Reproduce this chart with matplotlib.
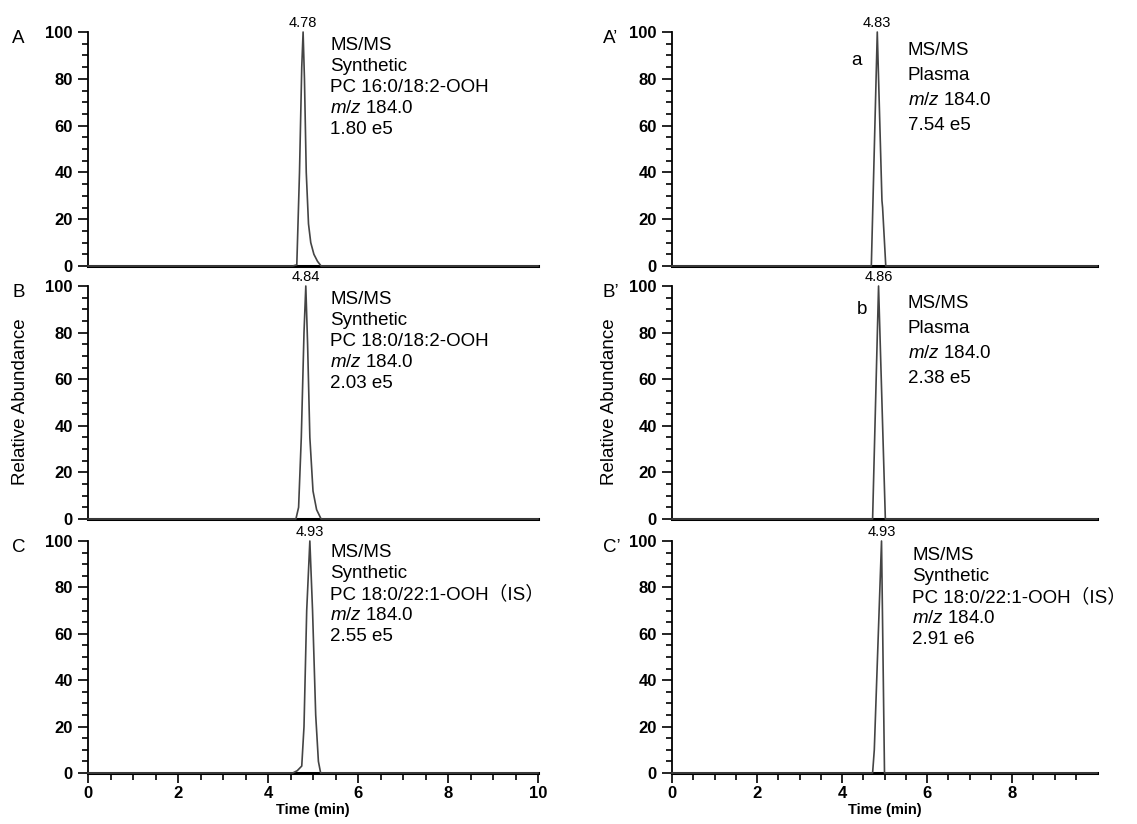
import numpy as np
import matplotlib
matplotlib.use("Agg")
import matplotlib.pyplot as plt
from matplotlib.ticker import MultipleLocator, FixedLocator

plt.rcParams['font.family'] = ['Liberation Sans', 'Noto Sans CJK SC', 'DejaVu Sans']
plt.rcParams['mathtext.fontset'] = 'custom'
plt.rcParams['mathtext.rm'] = 'Liberation Sans'
plt.rcParams['mathtext.it'] = 'Liberation Sans:italic'

# chromatogram traces: retention time (min) and relative abundance (%)
a_t = [0, 4.55, 4.64, 4.70, 4.75, 4.78, 4.81, 4.85, 4.90, 4.95, 5.02, 5.10, 5.18, 10]
a_y = [0, 0, 0.5, 40, 85, 100, 80, 40, 18, 10, 5, 2, 0, 0]
b_t = [0, 4.62, 4.68, 4.74, 4.80, 4.84, 4.88, 4.93, 5.00, 5.08, 5.18, 10]
b_y = [0, 0, 5, 35, 80, 100, 75, 35, 12, 4, 0, 0]
c_t = [0, 4.55, 4.65, 4.75, 4.80, 4.86, 4.93, 4.99, 5.06, 5.12, 5.17, 10]
c_y = [0, 0, 1, 3, 20, 70, 100, 70, 25, 5, 0, 0]
a2_t = [0, 4.69, 4.83, 4.94, 4.955, 5.03, 10]
a2_y = [0, 0, 100, 28, 25, 0, 0]
b2_t = [0, 4.72, 4.86, 5.02, 10]
b2_y = [0, 0, 100, 0, 0]
c2_t = [0, 4.72, 4.76, 4.93, 5.00, 10]
c2_y = [0, 0, 10, 100, 0, 0]

apex_times = ["4.78", "4.84", "4.93", "4.83", "4.86", "4.93"]
panel_tags = ["A", "B", "C", "A\u2019", "B\u2019", "C\u2019"]
info_texts = [
    ["MS/MS", "Synthetic", "PC 16:0/18:2-OOH", "$\\it{m/z}$ 184.0", "1.80 e5"],
    ["MS/MS", "Synthetic", "PC 18:0/18:2-OOH", "$\\it{m/z}$ 184.0", "2.03 e5"],
    ["MS/MS", "Synthetic", "PC 18:0/22:1-OOH\uff08IS\uff09", "$\\it{m/z}$ 184.0", "2.55 e5"],
    ["MS/MS", "Plasma", "$\\it{m/z}$ 184.0", "7.54 e5"],
    ["MS/MS", "Plasma", "$\\it{m/z}$ 184.0", "2.38 e5"],
    ["MS/MS", "Synthetic", "PC 18:0/22:1-OOH\uff08IS\uff09", "$\\it{m/z}$ 184.0", "2.91 e6"],
]
peak_marks = [None, None, None, ("a", 4.35, 88), ("b", 4.47, 90), None]

traces = [(a_t, a_y), (b_t, b_y), (c_t, c_y), (a2_t, a2_y), (b2_t, b2_y), (c2_t, c2_y)]

W, H = 1137, 824
fig = plt.figure(figsize=(11.37, 8.24), dpi=100)

col_x = [(88, 538), (672, 1097)]
row_y = [(32, 266), (286, 519), (541, 773)]
text_x = [0.538, 0.538, 0.538, 0.555, 0.555, 0.565]
first_base = [18, 18, 16, 23, 22, 19]   # px below axes top
line_step = [21, 21, 21, 25, 25, 21]

for i in range(6):
    col = i // 3
    row = i % 3
    x0, x1 = col_x[col]
    y0, y1 = row_y[row]
    ax = fig.add_axes([x0 / W, 1 - y1 / H, (x1 - x0) / W, (y1 - y0) / H])
    t, y = traces[i]
    ax.plot(t, y, color='#444444', lw=1.2, clip_on=False, zorder=3)
    ax.set_xlim(0, 10)
    ax.set_ylim(0, 100)

    for s in ['top', 'right']:
        ax.spines[s].set_visible(False)
    ax.spines['left'].set_linewidth(1.3)
    ax.spines['bottom'].set_linewidth(2.2)

    ax.yaxis.set_major_locator(MultipleLocator(20))
    ax.yaxis.set_minor_locator(MultipleLocator(5))
    ax.tick_params(axis='y', which='major', length=7, width=1.2, pad=4, labelsize=12)
    ax.tick_params(axis='y', which='minor', length=4, width=1.2)
    for lab in ax.get_yticklabels():
        lab.set_fontweight('bold')

    if row == 2:
        if col == 0:
            major = [0, 2, 4, 6, 8, 10]
        else:
            major = [0, 2, 4, 6, 8]
        minor = [m / 2 for m in range(1, 20) if m % 4 != 0]
        ax.xaxis.set_major_locator(FixedLocator(major))
        ax.xaxis.set_minor_locator(FixedLocator(minor))
        ax.tick_params(axis='x', which='major', length=7, width=1.2, pad=2, labelsize=12)
        ax.tick_params(axis='x', which='minor', length=5, width=1.2)
        for lab in ax.get_xticklabels():
            lab.set_fontweight('bold')
        ax.set_xlabel("Time (min)", fontsize=10.5, fontweight='bold', labelpad=2)
    else:
        ax.set_xticks([])

    apex = float(apex_times[i])
    ax.annotate(apex_times[i], xy=(apex, 100), xytext=(0, 1.5),
                textcoords='offset points', ha='center', va='bottom',
                fontsize=10.5, annotation_clip=False)

    for k, line in enumerate(info_texts[i]):
        ax.annotate(line, xy=(text_x[i], 1), xycoords='axes fraction',
                    xytext=(0, -(first_base[i] + k * line_step[i])),
                    textcoords='offset pixels', ha='left', va='baseline',
                    fontsize=13.5)

    if peak_marks[i] is not None:
        mk, mx, my = peak_marks[i]
        ax.text(mx, my, mk, ha='center', va='center', fontsize=13.5)

    tag_x = 12 if col == 0 else 603
    ax.text(-(x0 - tag_x) / (x1 - x0), 1.01, panel_tags[i],
            transform=ax.transAxes, ha='left', va='top', fontsize=13.5)

fig.text(21 / W, 1 - 402 / H, "Relative Abundance", rotation=90,
         ha='center', va='center', fontsize=13.5)
fig.text(609 / W, 1 - 402 / H, "Relative Abundance", rotation=90,
         ha='center', va='center', fontsize=13.5)

fig.savefig("out.png", dpi=100)
